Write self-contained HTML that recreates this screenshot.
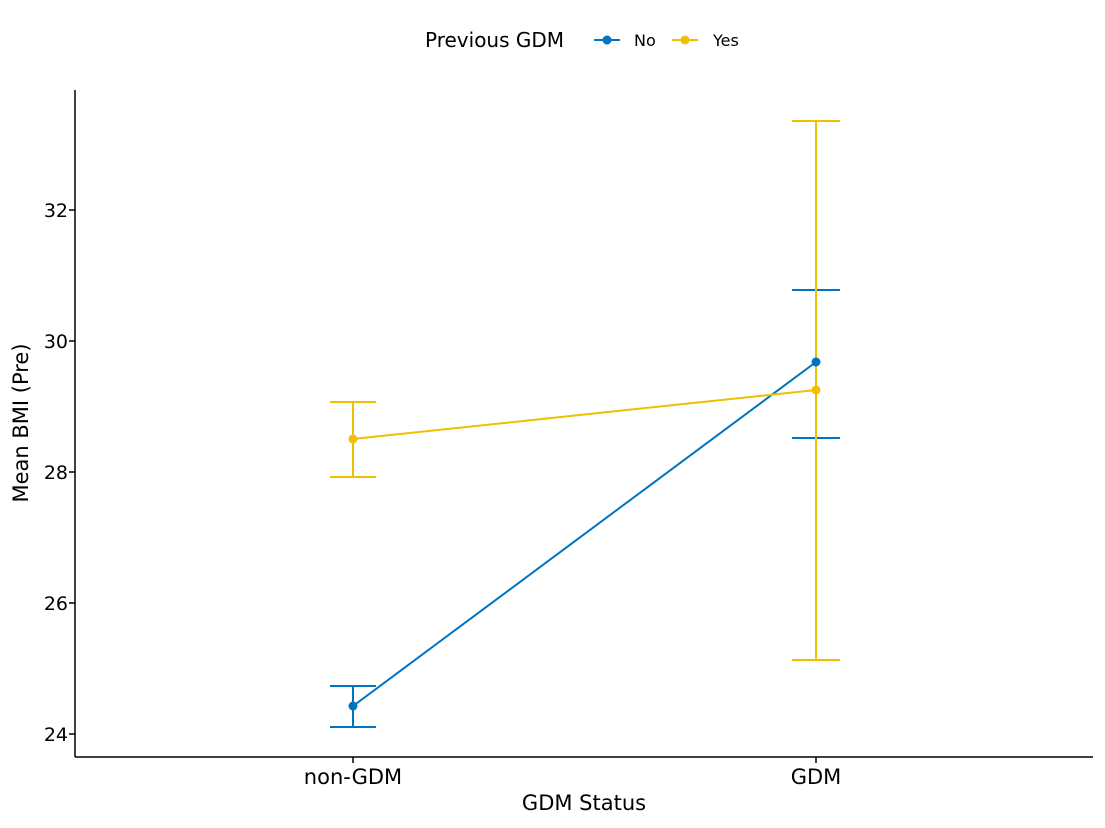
<!DOCTYPE html>
<html><head><style>body{margin:0;background:#fff}svg{display:block}</style></head><body>
<svg width="1105" height="828" xmlns="http://www.w3.org/2000/svg" font-family="'DejaVu Sans','Liberation Sans',sans-serif">
<rect width="1105" height="828" fill="#fff"/>
<g stroke="#000" stroke-width="1.5" fill="none">
<line x1="75" y1="90" x2="75" y2="757"/>
<line x1="75" y1="757" x2="1093" y2="757"/>
<line x1="69" y1="734" x2="75" y2="734"/>
<line x1="69" y1="603" x2="75" y2="603"/>
<line x1="69" y1="472" x2="75" y2="472"/>
<line x1="69" y1="341" x2="75" y2="341"/>
<line x1="69" y1="210" x2="75" y2="210"/>
<line x1="353" y1="757" x2="353" y2="763"/>
<line x1="816" y1="757" x2="816" y2="763"/>
</g>
<g font-size="19" fill="#000" text-anchor="end">
<text x="68" y="741">24</text><text x="68" y="610">26</text><text x="68" y="479">28</text><text x="68" y="348">30</text><text x="68" y="217">32</text>
</g>
<g font-size="21" fill="#000" text-anchor="middle">
<text x="353" y="784">non-GDM</text><text x="816" y="784">GDM</text>
<text x="584" y="810">GDM Status</text>
<text transform="translate(28,423) rotate(-90)">Mean BMI (Pre)</text>
</g>
<g stroke="#0073C2" stroke-width="2" fill="none">
<line x1="353" y1="686" x2="353" y2="727"/><line x1="330" y1="686" x2="376" y2="686"/><line x1="330" y1="727" x2="376" y2="727"/>
<line x1="816" y1="290" x2="816" y2="438"/><line x1="792" y1="290" x2="840" y2="290"/><line x1="792" y1="438" x2="840" y2="438"/>
<line x1="353" y1="706" x2="816" y2="362"/>
</g>
<g stroke="#EFC000" stroke-width="2" fill="none">
<line x1="353" y1="402" x2="353" y2="477"/><line x1="330" y1="402" x2="376" y2="402"/><line x1="330" y1="477" x2="376" y2="477"/>
<line x1="816" y1="121" x2="816" y2="660"/><line x1="792" y1="121" x2="840" y2="121"/><line x1="792" y1="660" x2="840" y2="660"/>
<line x1="353" y1="439" x2="816" y2="390"/>
</g>
<circle cx="353" cy="706" r="4.5" fill="#0073C2"/><circle cx="816" cy="362" r="4.5" fill="#0073C2"/>
<circle cx="353" cy="439" r="4.5" fill="#EFC000"/><circle cx="816" cy="390" r="4.5" fill="#EFC000"/>
<text x="425" y="47" font-size="20" fill="#000">Previous GDM</text>
<line x1="594" y1="40" x2="620" y2="40" stroke="#0073C2" stroke-width="2"/><circle cx="607" cy="40" r="4.5" fill="#0073C2"/>
<text x="634" y="46" font-size="16" fill="#000">No</text>
<line x1="672" y1="40" x2="698" y2="40" stroke="#EFC000" stroke-width="2"/><circle cx="685" cy="40" r="4.5" fill="#EFC000"/>
<text x="713" y="46" font-size="16" fill="#000">Yes</text>
</svg>
</body></html>
